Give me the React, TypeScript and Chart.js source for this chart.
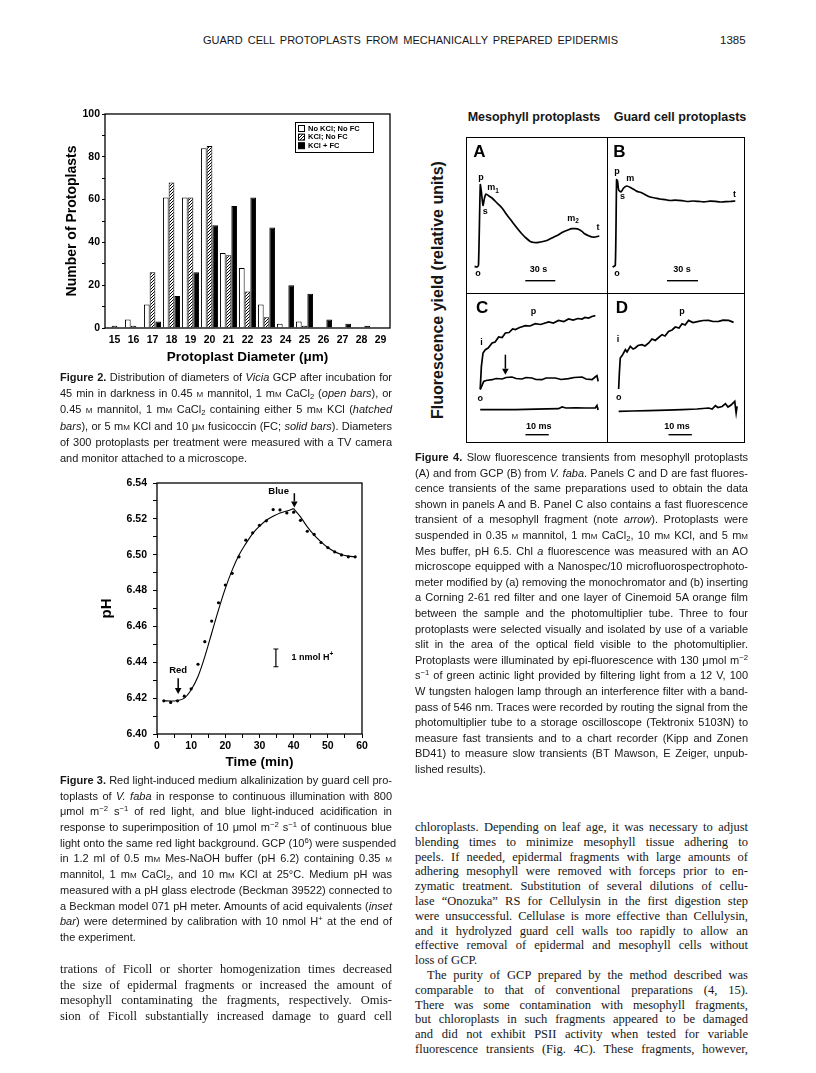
import React, { useEffect, useRef } from 'react';
import { Chart, registerables } from 'chart.js';

Chart.register(...registerables);

const SANS = "'Liberation Sans', Arial, Helvetica, sans-serif";
const SERIF = "'Liberation Serif', 'Times New Roman', Times, serif";
Chart.defaults.font.family = SANS;
Chart.defaults.color = '#000';

// ---------------- Figure 2 data ----------------
const diameterLabels = ['15', '16', '17', '18', '19', '20', '21', '22', '23', '24', '25', '26', '27', '28', '29'];
const openBars = [0, 4, 11, 61, 61, 84, 35, 28, 11, 2, 3, 0, 0, 0, 0];
const hatchedBars = [1, 1, 26, 68, 61, 85, 34, 17, 5, 0, 1, 0, 0, 0, 0];
const solidBars = [0, 0, 3, 15, 26, 48, 57, 61, 47, 20, 16, 4, 2, 1, 0];
const fig2SeriesNames = ['No KCl; No FC', 'KCl; No FC', 'KCl + FC'];

// ---------------- Figure 3 data ----------------
const timeMin = [2, 4, 6, 8, 10, 12, 14, 16, 18, 20, 22, 24, 26, 28, 30, 32, 34, 36, 38, 40, 42, 44, 46, 48, 50, 52, 54, 56, 58];
const phMeasured = [6.4185, 6.4176, 6.4185, 6.4211, 6.4252, 6.4389, 6.4515, 6.463, 6.4732, 6.4831, 6.4896, 6.4988, 6.5081, 6.5122, 6.5164, 6.5189, 6.5252, 6.525, 6.5233, 6.5237, 6.5192, 6.5131, 6.5113, 6.5068, 6.504, 6.5016, 6.4999, 6.4988, 6.4988];
const fitRiseTime = [2, 4, 6, 8, 10, 12, 14, 16, 18, 20, 22, 24, 26, 28, 30, 32, 34, 36, 38, 40];
const fitRisePh = [6.4185, 6.4184, 6.4187, 6.42, 6.4247, 6.4321, 6.4432, 6.4562, 6.4692, 6.4812, 6.4914, 6.4998, 6.5062, 6.5118, 6.5159, 6.5192, 6.5214, 6.5233, 6.5244, 6.5257];
const fitFallTime = [40, 42, 44, 46, 48, 50, 52, 54, 56, 58];
const fitFallPh = [6.5257, 6.5211, 6.5155, 6.5109, 6.5072, 6.504, 6.5016, 6.5001, 6.4992, 6.4988];

// ---------------- Figure 4 data (x: time, y: relative fluorescence) ----------------
const aTime = [8.6, 11, 12.5, 14.3, 15.5, 17, 18.5, 20, 23, 26, 31, 36, 41, 46, 51, 56, 60, 64.3, 68, 72.6, 77, 82.6, 87, 92.6, 97, 102.6, 106, 109.3, 113, 116, 119, 122.6, 126, 129.3, 133.3];
const aYield = [26.6, 26, 28, 108.3, 100, 87.6, 95, 99, 97, 95, 90, 85, 78, 71.6, 65, 59, 55, 51.6, 50.5, 50.6, 51.5, 53.3, 55.5, 58.3, 61, 63.3, 64.3, 64.3, 63.5, 61.6, 59, 57.3, 56, 56, 57];
const bTime = [5.6, 8.3, 9.6, 10.6, 11.6, 14, 16.6, 20, 24.3, 27, 30, 34, 38.3, 43, 48.3, 53, 58.3, 63, 68, 75, 80, 86, 91.6, 97, 103, 108.3, 113, 118.3, 123, 128.3];
const bYield = [26, 27.6, 113.3, 111.6, 103.3, 101, 105, 107, 105, 103.5, 101.6, 100.5, 98.3, 96, 95, 94, 93.3, 92.5, 92.8, 92.3, 91.5, 92, 91.6, 91.2, 91.8, 91.6, 91, 91.3, 91.5, 92];
const cTime = [6.1, 6.6, 7.3, 8.3, 9.5, 11.2, 12.5, 14, 15.5, 16.9, 18.5, 20, 21.2, 23, 25.5, 27.5, 29.7, 32, 35.5, 37.5, 39.7, 42, 44, 46, 48, 49.8, 51, 52.6, 54, 55.5];
const cYield = [54, 76.6, 90, 93.3, 95, 100, 101, 106, 105.5, 110, 110.5, 114, 113.5, 115.5, 117.3, 117, 119.3, 118.5, 121, 120, 122.6, 121.5, 124, 123, 124.5, 124, 125.5, 125, 126.5, 127.3];
const cFragTime = [6.1, 7.6, 8.6, 11.2, 12.9, 15.5, 17.2, 19.7, 21.5, 24, 25.8, 28.3, 30, 32.6, 34.3, 38.3, 40.8, 44, 46.4, 49.8, 51.5, 54.1, 55.4, 56.2, 56.7];
const cFragYield = [53.3, 61.6, 62.5, 63.3, 64.5, 64, 65.5, 66, 64.5, 64, 65.5, 65, 63.5, 63.3, 65, 65, 63.5, 64.3, 65.5, 66, 64, 63.3, 66, 67.3, 61.6];
const cBaseTime = [6.1, 12.9, 21.2, 30, 39.7, 41.2, 42.9, 47.2, 51.5, 55.5, 56.2, 56.7];
const cBaseYield = [33.3, 33.5, 33.3, 33.8, 34.3, 36, 35, 35.2, 35, 35.2, 37.5, 33];
const dTime = [5, 5.3, 5.7, 6.7, 7.9, 8.6, 10, 11.2, 12.1, 13.3, 15, 16.3, 17.9, 19.3, 20.7, 21.9, 23.6, 24.9, 26.4, 27.9, 29.3, 30.9, 32.2, 33.5, 35, 36.9, 39.3, 41.2, 43.6, 45.5, 47.9, 49.8, 52.2, 54.3];
const dYield = [54, 70, 85, 88.3, 93.3, 91, 96.6, 94, 95, 97.5, 98.3, 97, 100, 104, 102.6, 105, 108.3, 107, 111.6, 113, 116, 115, 119.3, 118, 122.6, 120.5, 121.6, 122.5, 122.6, 121.5, 121.6, 122.8, 122.6, 120.6];
const dBaseTime = [5, 10.7, 17.9, 25.8, 32.2, 38.6, 43.6, 45.1, 46.5, 47.6, 49.4, 50.8, 51.9, 53.2, 54.8, 55.4, 55.8];
const dBaseYield = [31.6, 32, 32.3, 32.8, 33.3, 34, 35, 34, 37.3, 35.5, 36.5, 39.3, 36, 38, 41.6, 30, 36.6];

// ---------------- text ----------------
const fig2Caption = [
  '**Figure 2.** Distribution of diameters of *Vicia* GCP after incubation for',
  '45 min in darkness in 0.45 |m| mannitol, 1 m|m| CaCl~2~ (*open bars*), or',
  '0.45 |m| mannitol, 1 m|m| CaCl~2~ containing either 5 m|m| KCl (*hatched*',
  '*bars*), or 5 m|m| KCl and 10 μ|m| fusicoccin (FC; *solid bars*). Diameters',
  'of 300 protoplasts per treatment were measured with a TV camera',
  'and monitor attached to a microscope.',
];
const fig3Caption = [
  '**Figure 3.** Red light-induced medium alkalinization by guard cell pro-',
  'toplasts of *V. faba* in response to continuous illumination with 800',
  'μmol m^−2^ s^−1^ of red light, and blue light-induced acidification in',
  'response to superimposition of 10 μmol m^−2^ s^−1^ of continuous blue',
  'light onto the same red light background. GCP (10^6^) were suspended',
  'in 1.2 ml of 0.5 m|m| Mes-NaOH buffer (pH 6.2) containing 0.35 |m|',
  'mannitol, 1 m|m| CaCl~2~, and 10 m|m| KCl at 25°C. Medium pH was',
  'measured with a pH glass electrode (Beckman 39522) connected to',
  'a Beckman model 071 pH meter. Amounts of acid equivalents (*inset*',
  '*bar*) were determined by calibration with 10 nmol H^+^ at the end of',
  'the experiment.',
];
const leftBody = [
  'trations of Ficoll or shorter homogenization times decreased',
  'the size of epidermal fragments or increased the amount of',
  'mesophyll contaminating the fragments, respectively. Omis-',
  'sion of Ficoll substantially increased damage to guard cell',
];
const fig4Caption = [
  '**Figure 4.** Slow fluorescence transients from mesophyll protoplasts',
  '(A) and from GCP (B) from *V. faba*. Panels C and D are fast fluores-',
  'cence transients of the same preparations used to obtain the data',
  'shown in panels A and B. Panel C also contains a fast fluorescence',
  'transient of a mesophyll fragment (note *arrow*). Protoplasts were',
  'suspended in 0.35 |m| mannitol, 1 m|m| CaCl~2~, 10 m|m| KCl, and 5 m|m|',
  'Mes buffer, pH 6.5. Chl *a* fluorescence was measured with an AO',
  'microscope equipped with a Nanospec/10 microfluorospectrophoto-',
  'meter modified by (a) removing the monochromator and (b) inserting',
  'a Corning 2-61 red filter and one layer of Cinemoid 5A orange film',
  'between the sample and the photomultiplier tube. Three to four',
  'protoplasts were selected visually and isolated by use of a variable',
  'slit in the area of the optical field visible to the photomultiplier.',
  'Protoplasts were illuminated by epi-fluorescence with 130 μmol m^−2^',
  's^−1^ of green actinic light provided by filtering light from a 12 V, 100',
  'W tungsten halogen lamp through an interference filter with a band-',
  'pass of 546 nm. Traces were recorded by routing the signal from the',
  'photomultiplier tube to a storage oscilloscope (Tektronix 5103N) to',
  'measure fast transients and to a chart recorder (Kipp and Zonen',
  'BD41) to measure slow transients (BT Mawson, E Zeiger, unpub-',
  'lished results).',
];
const rightBody1 = [
  'chloroplasts. Depending on leaf age, it was necessary to adjust',
  'blending times to minimize mesophyll tissue adhering to',
  'peels. If needed, epidermal fragments with large amounts of',
  'adhering mesophyll were removed with forceps prior to en-',
  'zymatic treatment. Substitution of several dilutions of cellu-',
  'lase “Onozuka” RS for Cellulysin in the first digestion step',
  'were unsuccessful. Cellulase is more effective than Cellulysin,',
  'and it hydrolyzed guard cell walls too rapidly to allow an',
  'effective removal of epidermal and mesophyll cells without',
  'loss of GCP.',
];
const rightBody2 = [
  'The purity of GCP prepared by the method described was',
  'comparable to that of conventional preparations (4, 15).',
  'There was some contamination with mesophyll fragments,',
  'but chloroplasts in such fragments appeared to be damaged',
  'and did not exhibit PSII activity when tested for variable',
  'fluorescence transients (Fig. 4C). These fragments, however,',
];

function rich(s: string) {
  const parts = s.split(/(\*\*[^*]+\*\*|\*[^*]+\*|\^[^^]+\^|~[^~]+~|\|[^|]+\|)/g).filter((p) => p !== '');
  return parts.map((p, i) => {
    if (p.startsWith('**')) return <b key={i}>{p.slice(2, -2)}</b>;
    if (p.startsWith('*')) return <i key={i}>{p.slice(1, -1)}</i>;
    if (p.startsWith('^')) return <span key={i} style={{ fontSize: '0.7em', lineHeight: 0, verticalAlign: '0.5em' }}>{p.slice(1, -1)}</span>;
    if (p.startsWith('~')) return <span key={i} style={{ fontSize: '0.7em', lineHeight: 0, verticalAlign: '-0.2em' }}>{p.slice(1, -1)}</span>;
    if (p.startsWith('|')) return <span key={i} style={{ fontVariant: 'small-caps' }}>{p.slice(1, -1)}</span>;
    return <React.Fragment key={i}>{p}</React.Fragment>;
  });
}

function Lines(props: any) {
  const { lines, left, top, width, lh, size, family, indent = 0, color = '#161616' } = props;
  return (
    <div style={{ position: 'absolute', left, top, width, fontFamily: family, fontSize: size, lineHeight: `${lh}px`, color }}>
      {lines.map((ln: string, i: number) => {
        const last = i === lines.length - 1 && !props.justifyLast;
        return (
          <div key={i} style={{ height: lh, whiteSpace: 'nowrap', textAlign: last ? 'left' : 'justify', textAlignLast: last ? 'left' : 'justify', textIndent: i === 0 ? indent : 0 }}>
            {rich(ln)}
          </div>
        );
      })}
    </div>
  );
}

function notesPlugin(notes: any[]) {
  return {
    id: 'notes',
    afterDatasetsDraw(chart: any) {
      const ctx = chart.ctx;
      const X = (v: number) => chart.scales.x.getPixelForValue(v);
      const Y = (v: number) => chart.scales.y.getPixelForValue(v);
      ctx.save();
      ctx.fillStyle = '#000';
      ctx.strokeStyle = '#000';
      ctx.textBaseline = 'middle';
      for (const n of notes) {
        if (n.kind === 'text') {
          const font = `bold ${n.size}px ${SANS}`;
          const small = `bold ${(n.size * 0.72).toFixed(1)}px ${SANS}`;
          ctx.font = font;
          const w = ctx.measureText(n.text).width;
          ctx.font = small;
          const extra = n.sub || n.sup ? ctx.measureText(n.sub || n.sup).width : 0;
          let x0 = X(n.x);
          if (n.align !== 'left') x0 -= (w + extra) / 2;
          const y0 = Y(n.y);
          ctx.textAlign = 'left';
          ctx.font = font;
          ctx.fillText(n.text, x0, y0);
          ctx.font = small;
          if (n.sub) ctx.fillText(n.sub, x0 + w, y0 + n.size * 0.32);
          if (n.sup) ctx.fillText(n.sup, x0 + w, y0 - n.size * 0.42);
        } else if (n.kind === 'bar') {
          ctx.lineWidth = 1.4;
          ctx.beginPath();
          ctx.moveTo(X(n.x1), Y(n.y));
          ctx.lineTo(X(n.x2), Y(n.y));
          ctx.stroke();
        } else if (n.kind === 'arrow') {
          const x = X(n.x), y1 = Y(n.y1), y2 = Y(n.y2);
          const dir = y2 > y1 ? 1 : -1;
          const head = 6;
          ctx.lineWidth = 1.5;
          ctx.beginPath();
          ctx.moveTo(x, y1);
          ctx.lineTo(x, y2 - dir * head);
          ctx.stroke();
          ctx.beginPath();
          ctx.moveTo(x - 3.3, y2 - dir * head);
          ctx.lineTo(x + 3.3, y2 - dir * head);
          ctx.lineTo(x, y2);
          ctx.closePath();
          ctx.fill();
        } else if (n.kind === 'ibar') {
          const x = X(n.x), y1 = Y(n.y1), y2 = Y(n.y2);
          ctx.lineWidth = 1.2;
          ctx.beginPath();
          ctx.moveTo(x, y1); ctx.lineTo(x, y2);
          ctx.moveTo(x - 2.5, y1); ctx.lineTo(x + 2.5, y1);
          ctx.moveTo(x - 2.5, y2); ctx.lineTo(x + 2.5, y2);
          ctx.stroke();
        }
      }
      ctx.restore();
    },
  };
}

const framePlugin = {
  id: 'frame',
  afterDraw(chart: any) {
    const { ctx, chartArea } = chart;
    ctx.save();
    ctx.strokeStyle = '#000';
    ctx.lineWidth = 1.3;
    ctx.strokeRect(chartArea.left, chartArea.top, chartArea.right - chartArea.left, chartArea.bottom - chartArea.top);
    ctx.restore();
  },
};

const boxLegendPlugin = {
  id: 'boxLegend',
  afterDraw(chart: any) {
    const { ctx, chartArea } = chart;
    const w = 78, h = 30;
    const left = chartArea.right - 17 - w;
    const top = chartArea.top + 8;
    ctx.save();
    ctx.fillStyle = '#fff';
    ctx.fillRect(left, top, w, h);
    ctx.strokeStyle = '#000';
    ctx.lineWidth = 1;
    ctx.strokeRect(left + 0.5, top + 0.5, w, h);
    chart.data.datasets.forEach((ds: any, i: number) => {
      const y = top + 6.5 + i * 8.6;
      ctx.fillStyle = ds.backgroundColor;
      ctx.fillRect(left + 3, y - 3, 6, 6);
      ctx.strokeRect(left + 3.5, y - 3, 6, 6);
      ctx.fillStyle = '#000';
      ctx.font = `bold 7.5px ${SANS}`;
      ctx.textBaseline = 'middle';
      ctx.textAlign = 'left';
      ctx.fillText(ds.label, left + 13, y);
    });
    ctx.restore();
  },
};

function makeHatch() {
  const c = document.createElement('canvas');
  c.width = 3;
  c.height = 3;
  const g = c.getContext('2d')!;
  g.fillStyle = '#fff';
  g.fillRect(0, 0, 3, 3);
  g.fillStyle = '#000';
  g.fillRect(2, 0, 1, 1);
  g.fillRect(1, 1, 1, 1);
  g.fillRect(0, 2, 1, 1);
  return g.createPattern(c, 'repeat');
}

const tickFont = (size: number) => ({ family: SANS, weight: 'bold' as const, size });

function fig2Config() {
  const hatch = makeHatch();
  const nz = (a: number[]) => a.map((v) => (v === 0 ? null : v));
  return {
    type: 'bar' as const,
    data: {
      labels: diameterLabels,
      datasets: [
        { label: fig2SeriesNames[0], data: nz(openBars), backgroundColor: '#fff', borderColor: '#000', borderWidth: 1 },
        { label: fig2SeriesNames[1], data: nz(hatchedBars), backgroundColor: hatch, borderColor: '#000', borderWidth: 1 },
        { label: fig2SeriesNames[2], data: nz(solidBars), backgroundColor: '#000', borderColor: '#000', borderWidth: 1 },
      ],
    },
    options: {
      responsive: false,
      animation: false,
      devicePixelRatio: 1,
      layout: { padding: { top: 14, right: 10, left: 0, bottom: 0 } },
      datasets: { bar: { categoryPercentage: 0.9, barPercentage: 1 } },
      plugins: { legend: { display: false }, tooltip: { enabled: false } },
      scales: {
        x: {
          grid: { display: false, drawTicks: false },
          border: { display: false },
          ticks: { font: tickFont(10.5), padding: 6, maxRotation: 0, autoSkip: false, color: '#000' },
          title: { display: true, text: 'Protoplast Diameter (μm)', font: tickFont(13.5), color: '#000', padding: { top: 0, bottom: 5 } },
          afterFit: (s: any) => { s.height = 42; },
        },
        y: {
          min: 0,
          max: 100,
          grid: { display: true, drawOnChartArea: false, drawTicks: true, tickLength: 3, color: '#000' },
          border: { display: false },
          ticks: { stepSize: 10, font: tickFont(10.5), padding: 2, color: '#000', callback: (v: any) => (v % 20 === 0 ? String(v) : '') },
          title: { display: true, text: 'Number of Protoplasts', font: tickFont(14), color: '#000', padding: { top: 9, bottom: 0 } },
          afterFit: (s: any) => { s.width = 50; },
        },
      },
    },
    plugins: [framePlugin, boxLegendPlugin],
  };
}

function fig3Config() {
  const pts = (xs: number[], ys: number[]) => xs.map((x, i) => ({ x, y: ys[i] }));
  const fig3Notes = [
    { kind: 'text', x: 35.6, y: 6.5352, text: 'Blue', size: 9.5 },
    { kind: 'arrow', x: 40.2, y1: 6.5343, y2: 6.5264 },
    { kind: 'text', x: 6.2, y: 6.4357, text: 'Red', size: 9.5 },
    { kind: 'arrow', x: 6.2, y1: 6.4311, y2: 6.4223 },
    { kind: 'ibar', x: 34.8, y1: 6.4474, y2: 6.4375 },
    { kind: 'text', x: 39.4, y: 6.4426, text: '1 nmol H', sup: '+', size: 9, align: 'left' },
  ];
  return {
    type: 'scatter' as const,
    data: {
      datasets: [
        { data: pts(timeMin, phMeasured), pointRadius: 1.6, pointBackgroundColor: '#000', pointBorderWidth: 0, showLine: false },
        { data: pts(fitRiseTime, fitRisePh), showLine: true, pointRadius: 0, borderColor: '#000', borderWidth: 1.1, cubicInterpolationMode: 'monotone' },
        { data: pts(fitFallTime, fitFallPh), showLine: true, pointRadius: 0, borderColor: '#000', borderWidth: 1.1, cubicInterpolationMode: 'monotone' },
      ],
    },
    options: {
      responsive: false,
      animation: false,
      devicePixelRatio: 1,
      layout: { padding: { top: 13, right: 18, left: 0, bottom: 0 } },
      plugins: { legend: { display: false }, tooltip: { enabled: false } },
      scales: {
        x: {
          type: 'linear',
          min: 0,
          max: 60,
          grid: { display: true, drawOnChartArea: false, drawTicks: true, tickLength: 4, color: '#000' },
          border: { display: false },
          ticks: { stepSize: 5, font: tickFont(10.5), padding: 2, color: '#000', maxRotation: 0, callback: (v: any) => (v % 10 === 0 ? String(v) : '') },
          title: { display: true, text: 'Time (min)', font: tickFont(13.5), color: '#000', padding: { top: 0, bottom: 5 } },
          afterFit: (s: any) => { s.height = 41; },
        },
        y: {
          min: 6.4,
          max: 6.54,
          grid: { display: true, drawOnChartArea: false, drawTicks: true, tickLength: 4, color: '#000' },
          border: { display: false },
          ticks: {
            stepSize: 0.01,
            font: tickFont(10.5),
            padding: 6,
            color: '#000',
            callback: (v: any) => {
              const k = Math.round(v * 100);
              return k % 2 === 0 ? (k / 100).toFixed(2) : '';
            },
          },
          title: { display: true, text: 'pH', font: tickFont(15), color: '#000', padding: { top: 8, bottom: 0 } },
          afterFit: (s: any) => { s.width = 67; },
        },
      },
    },
    plugins: [framePlugin, notesPlugin(fig3Notes)],
  };
}

function panelConfig(xMax: number, yMax: number, traces: [number[], number[]][], notes: any[], tension: number) {
  return {
    type: 'line' as const,
    data: {
      datasets: traces.map(([xs, ys]) => ({
        data: xs.map((x, i) => ({ x, y: ys[i] })),
        borderColor: '#000',
        borderWidth: 1.7,
        pointRadius: 0,
        tension,
        fill: false,
      })),
    },
    options: {
      responsive: false,
      animation: false,
      devicePixelRatio: 1,
      layout: { padding: 0 },
      plugins: { legend: { display: false }, tooltip: { enabled: false } },
      scales: {
        x: { type: 'linear', min: 0, max: xMax, display: false },
        y: { min: 0, max: yMax, display: false },
      },
    },
    plugins: [notesPlugin(notes)],
  };
}

const notesA = [
  { kind: 'text', x: 13.3, y: 141, text: 'A', size: 17 },
  { kind: 'text', x: 15, y: 115, text: 'p', size: 9 },
  { kind: 'text', x: 27, y: 105, text: 'm', sub: '1', size: 9 },
  { kind: 'text', x: 19.3, y: 81.6, text: 's', size: 9 },
  { kind: 'text', x: 107, y: 74.3, text: 'm', sub: '2', size: 9 },
  { kind: 'text', x: 132, y: 65.6, text: 't', size: 9 },
  { kind: 'text', x: 12, y: 19, text: 'o', size: 9 },
  { kind: 'text', x: 72.6, y: 23.3, text: '30 s', size: 9 },
  { kind: 'bar', x1: 59.3, x2: 89.3, y: 12.3 },
];
const notesB = [
  { kind: 'text', x: 12.3, y: 141, text: 'B', size: 17 },
  { kind: 'text', x: 10, y: 121.6, text: 'p', size: 9 },
  { kind: 'text', x: 23.3, y: 114.3, text: 'm', size: 9 },
  { kind: 'text', x: 15.6, y: 96.6, text: 's', size: 9 },
  { kind: 'text', x: 127.6, y: 98.3, text: 't', size: 9 },
  { kind: 'text', x: 10, y: 19, text: 'o', size: 9 },
  { kind: 'text', x: 75, y: 23.3, text: '30 s', size: 9 },
  { kind: 'bar', x1: 60, x2: 91, y: 12.3 },
];
const notesC = [
  { kind: 'text', x: 6.9, y: 135, text: 'C', size: 17 },
  { kind: 'text', x: 29, y: 131.6, text: 'p', size: 9 },
  { kind: 'text', x: 6.6, y: 100.6, text: 'i', size: 9 },
  { kind: 'text', x: 6.1, y: 44, text: 'o', size: 9 },
  { kind: 'arrow', x: 16.9, y1: 88.3, y2: 68.3 },
  { kind: 'text', x: 31.2, y: 16.6, text: '10 ms', size: 9 },
  { kind: 'bar', x1: 25.5, x2: 35.5, y: 8.3 },
];
const notesD = [
  { kind: 'text', x: 6.4, y: 135, text: 'D', size: 17 },
  { kind: 'text', x: 32.2, y: 131.6, text: 'p', size: 9 },
  { kind: 'text', x: 4.7, y: 103.3, text: 'i', size: 9 },
  { kind: 'text', x: 5, y: 45, text: 'o', size: 9 },
  { kind: 'text', x: 30, y: 16.6, text: '10 ms', size: 9 },
  { kind: 'bar', x1: 26.4, x2: 36.4, y: 8.3 },
];

const abs = (left: number, top: number) => ({ position: 'absolute' as const, left, top });

export default function App() {
  const fig2Ref = useRef<HTMLCanvasElement>(null);
  const fig3Ref = useRef<HTMLCanvasElement>(null);
  const aRef = useRef<HTMLCanvasElement>(null);
  const bRef = useRef<HTMLCanvasElement>(null);
  const cRef = useRef<HTMLCanvasElement>(null);
  const dRef = useRef<HTMLCanvasElement>(null);

  useEffect(() => {
    document.body.style.margin = '0';
    const charts: any[] = [];
    charts.push(new Chart(fig2Ref.current!, fig2Config() as any));
    charts.push(new Chart(fig3Ref.current!, fig3Config() as any));
    charts.push(new Chart(aRef.current!, panelConfig(141, 156, [[aTime, aYield]], notesA, 0.2) as any));
    charts.push(new Chart(bRef.current!, panelConfig(138, 156, [[bTime, bYield]], notesB, 0.2) as any));
    charts.push(new Chart(cRef.current!, panelConfig(60.5, 150, [[cTime, cYield], [cFragTime, cFragYield], [cBaseTime, cBaseYield]], notesC, 0) as any));
    charts.push(new Chart(dRef.current!, panelConfig(59.2, 150, [[dTime, dYield], [dBaseTime, dBaseYield]], notesD, 0) as any));
    return () => charts.forEach((c) => c.destroy());
  }, []);

  const line = (left: number, top: number, width: number, height: number) => (
    <div style={{ ...abs(left, top), width, height, background: '#000' }} />
  );

  return (
    <div style={{ position: 'absolute', left: 0, top: 0, width: 816, height: 1073, background: '#fff', overflow: 'hidden', color: '#161616' }}>
      {/* running head */}
      <div style={{ ...abs(203, 33), width: 415, fontFamily: SANS, fontSize: 11, lineHeight: '14px', whiteSpace: 'nowrap', textAlign: 'justify', textAlignLast: 'justify' }}>
        GUARD CELL PROTOPLASTS FROM MECHANICALLY PREPARED EPIDERMIS
      </div>
      <div style={{ ...abs(720, 33), fontFamily: SANS, fontSize: 11.5, lineHeight: '14px' }}>1385</div>

      {/* Figure 2 */}
      <canvas ref={fig2Ref} width={345} height={270} style={abs(55, 100)} />
      <Lines lines={fig2Caption} left={60} top={369} width={332} lh={16.2} size={11} family={SANS} />

      {/* Figure 3 */}
      <canvas ref={fig3Ref} width={290} height={305} style={abs(90, 470)} />
      <Lines lines={fig3Caption} left={60} top={773} width={332} lh={15.7} size={11} family={SANS} />
      <Lines lines={leftBody} left={60} top={962} width={332} lh={15.7} size={12.5} family={SERIF} justifyLast />

      {/* Figure 4 */}
      <div style={{ ...abs(463, 109), width: 142, textAlign: 'center', fontFamily: SANS, fontWeight: 'bold', fontSize: 12.5, lineHeight: '16px', whiteSpace: 'nowrap' }}>Mesophyll protoplasts</div>
      <div style={{ ...abs(609, 109), width: 142, textAlign: 'center', fontFamily: SANS, fontWeight: 'bold', fontSize: 12.5, lineHeight: '16px', whiteSpace: 'nowrap' }}>Guard cell protoplasts</div>
      <div style={{ ...abs(438, 290), transform: 'translate(-50%, -50%) rotate(-90deg)', fontFamily: SANS, fontWeight: 'bold', fontSize: 16, whiteSpace: 'nowrap', lineHeight: '18px' }}>
        Fluorescence yield (relative units)
      </div>
      <canvas ref={aRef} width={141} height={156} style={abs(466, 137)} />
      <canvas ref={bRef} width={138} height={156} style={abs(607, 137)} />
      <canvas ref={cRef} width={141} height={150} style={abs(466, 293)} />
      <canvas ref={dRef} width={138} height={150} style={abs(607, 293)} />
      {line(466, 137, 279, 1.3)}
      {line(466, 442, 279, 1.3)}
      {line(466, 137, 1.3, 306)}
      {line(744, 137, 1.3, 306)}
      {line(606.5, 137, 1.3, 306)}
      {line(466, 292.5, 279, 1.3)}
      <Lines lines={fig4Caption} left={415} top={450} width={333} lh={15.6} size={11} family={SANS} />
      <Lines lines={rightBody1} left={415} top={820} width={333} lh={14.8} size={12.5} family={SERIF} />
      <Lines lines={rightBody2} left={415} top={968} width={333} lh={14.8} size={12.5} family={SERIF} indent={12} justifyLast />
    </div>
  );
}
